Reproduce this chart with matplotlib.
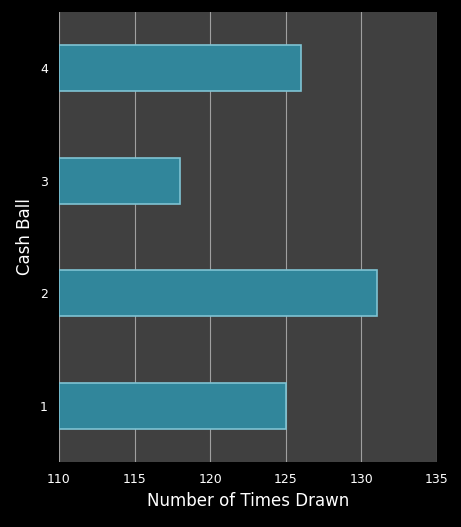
import matplotlib.pyplot as plt

balls = ['1', '2', '3', '4']
times_drawn = [125, 131, 118, 126]

fig = plt.figure(figsize=(4.61, 5.27), dpi=100, facecolor='black')
ax = fig.add_axes([59/461, 65/527, 378/461, 450/527])
ax.set_facecolor('#404040')

pos = range(len(balls))
ax.barh(pos, [v - 110 for v in times_drawn], left=110, height=0.41,
        color='#31869B', edgecolor='#7FC3D3', linewidth=1.2, zorder=3)

ax.set_xlim(110, 135)
ax.set_ylim(-0.5, 3.5)
ax.set_xticks(range(110, 136, 5))
ax.set_yticks(list(pos))
ax.set_yticklabels(balls)
ax.grid(axis='x', color='#A0A0A0', linewidth=0.8, zorder=0)
for s in ax.spines.values():
    s.set_visible(False)
ax.tick_params(colors='white', labelsize=9, length=0, pad=8)
ax.set_xlabel('Number of Times Drawn', color='white', fontsize=12)
ax.set_ylabel('Cash Ball', color='white', fontsize=12)

fig.savefig('out.png', facecolor='black')
